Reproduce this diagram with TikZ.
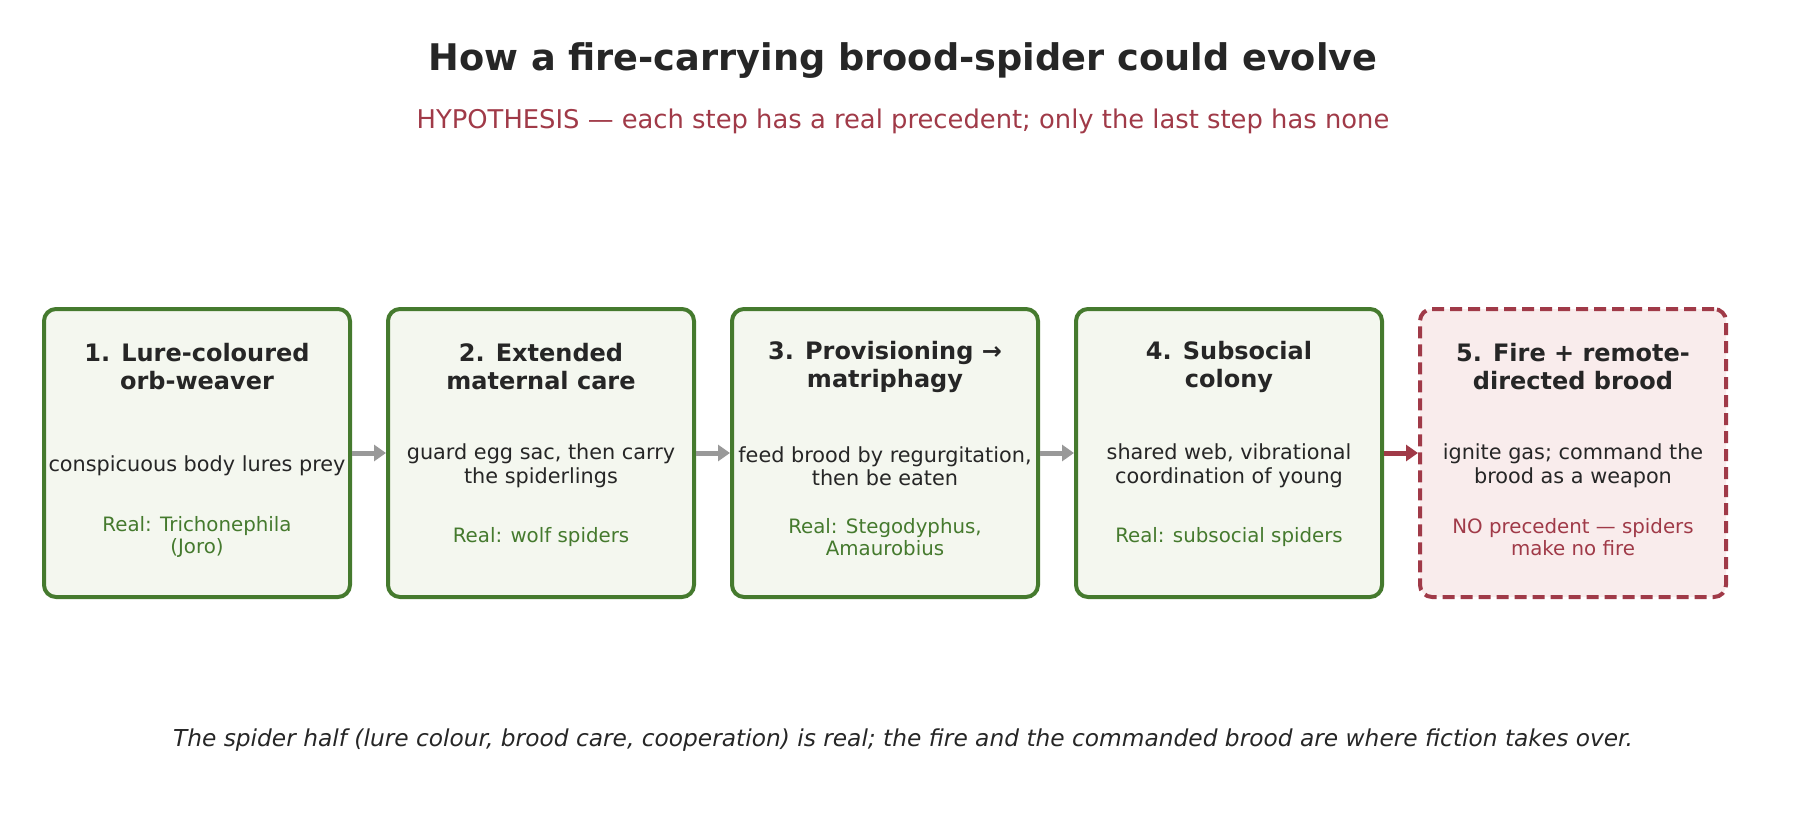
\documentclass[tikz,border=0pt]{standalone}
\usepackage{fontspec}
\setmainfont{DejaVu Sans}
\usetikzlibrary{arrows.meta}
\definecolor{grn}{HTML}{457A2E}
\definecolor{grnf}{HTML}{F4F7EF}
\definecolor{rd}{HTML}{A03A48}
\definecolor{rdf}{HTML}{F9ECEC}
\definecolor{txt}{HTML}{262626}
\definecolor{gry}{HTML}{999999}
\begin{document}
\begin{tikzpicture}[x=1pt,y=-1pt,
 box/.style={draw=grn,fill=grnf,line width=4pt,rounded corners=12pt,minimum width=306pt,minimum height=288pt,inner sep=0pt},
 rbox/.style={box,draw=rd,fill=rdf,dash pattern=on 12pt off 6pt},
 ttl/.style={font=\fontsize{24}{28}\selectfont\bfseries,text=txt,align=center},
 bdy/.style={font=\fontsize{20.8}{23.5}\selectfont,text=txt,align=center},
 real/.style={font=\fontsize{19.8}{22.5}\selectfont,text=grn,align=center},
 arr/.style={-{Triangle[length=12pt,width=16pt]},line width=5pt,draw=gry}]
\useasboundingbox (0,0) rectangle (1807,840);
\node[font=\fontsize{36.7}{40}\selectfont\bfseries,text=txt] (title) at (903,61) {How a fire-carrying brood-spider could evolve};
\node[font=\fontsize{25.8}{30}\selectfont,text=rd] (sub) at (903,121) {HYPOTHESIS — each step has a real precedent; only the last step has none};
\foreach \i/\x in {1/197,2/541,3/885,4/1229}{\node[box] (b\i) at (\x,453) {};}
\node[rbox] (b5) at (1573,453) {};
\node[ttl] at (197,367) {1. Lure-coloured\\orb-weaver};
\node[ttl] at (541,367) {2. Extended\\maternal care};
\node[ttl] at (885,367) {3. Provisioning →\\matriphagy};
\node[ttl] at (1229,367) {4. Subsocial\\colony};
\node[ttl] at (1573,367) {5. Fire + remote-\\directed brood};
\node[bdy] at (197,466) {conspicuous body lures prey};
\node[bdy] at (541,466) {guard egg sac, then carry\\the spiderlings};
\node[bdy] at (885,466) {feed brood by regurgitation,\\then be eaten};
\node[bdy] at (1229,466) {shared web, vibrational\\coordination of young};
\node[bdy] at (1573,466) {ignite gas; command the\\brood as a weapon};
\node[real] at (197,537) {Real: Trichonephila\\(Joro)};
\node[real] at (541,537) {Real: wolf spiders};
\node[real] at (885,537) {Real: Stegodyphus,\\Amaurobius};
\node[real] at (1229,537) {Real: subsocial spiders};
\node[real,text=rd] at (1573,537) {NO precedent — spiders\\make no fire};
\draw[arr] (b1.east) -- (b2.west);
\draw[arr] (b2.east) -- (b3.west);
\draw[arr] (b3.east) -- (b4.west);
\draw[arr,draw=rd] (b4.east) -- (b5.west);
\node[font=\fontsize{23.3}{26}\selectfont\itshape,text=txt] (foot) at (903,740) {The spider half (lure colour, brood care, cooperation) is real; the fire and the commanded brood are where fiction takes over.};
\end{tikzpicture}
\end{document}
